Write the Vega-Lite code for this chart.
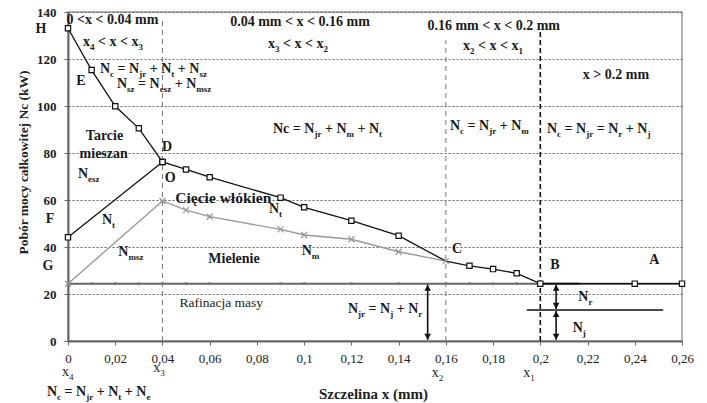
{
  "$schema": "https://vega.github.io/schema/vega-lite/v6.json",
  "width": 614,
  "height": 329,
  "autosize": {"type": "none"},
  "padding": {"left": 68, "top": 12, "right": 25, "bottom": 62},
  "background": "white",
  "config": {"font": "Liberation Serif", "view": {"stroke": "#999", "strokeWidth": 1.5}},
  "datasets": {
    "njr": [
      {"x": 0, "y": 24.4}, {"x": 0.01, "y": 24.4}, {"x": 0.02, "y": 24.4}, {"x": 0.03, "y": 24.4},
      {"x": 0.04, "y": 24.4}, {"x": 0.05, "y": 24.4}, {"x": 0.06, "y": 24.4}, {"x": 0.09, "y": 24.4},
      {"x": 0.1, "y": 24.4}, {"x": 0.12, "y": 24.4}, {"x": 0.14, "y": 24.4}, {"x": 0.16, "y": 24.4},
      {"x": 0.17, "y": 24.4}, {"x": 0.18, "y": 24.4}, {"x": 0.19, "y": 24.4}, {"x": 0.2, "y": 24.4},
      {"x": 0.24, "y": 24.4}, {"x": 0.26, "y": 24.4}
    ],
    "nc": [
      {"x": 0, "y": 133.1}, {"x": 0.01, "y": 115.3}, {"x": 0.02, "y": 99.9}, {"x": 0.03, "y": 90.5},
      {"x": 0.04, "y": 76.2}, {"x": 0.05, "y": 73.0}, {"x": 0.06, "y": 69.7}, {"x": 0.09, "y": 61.0},
      {"x": 0.1, "y": 56.9}, {"x": 0.12, "y": 51.2}, {"x": 0.14, "y": 44.8}, {"x": 0.16, "y": 34.0},
      {"x": 0.17, "y": 32.0}, {"x": 0.18, "y": 30.6}, {"x": 0.19, "y": 28.8}, {"x": 0.2, "y": 24.4},
      {"x": 0.24, "y": 24.4}, {"x": 0.26, "y": 24.4}
    ],
    "nt": [{"x": 0, "y": 44.1}, {"x": 0.04, "y": 76.2}],
    "nm": [
      {"x": 0, "y": 24.4}, {"x": 0.04, "y": 59.6}, {"x": 0.05, "y": 55.7}, {"x": 0.06, "y": 52.9},
      {"x": 0.09, "y": 47.5}, {"x": 0.1, "y": 45.1}, {"x": 0.12, "y": 43.3}, {"x": 0.14, "y": 38.0},
      {"x": 0.16, "y": 34.0}
    ],
    "vgray": [{"x": 0.04, "y": 0, "y2": 137.5}, {"x": 0.16, "y": 0, "y2": 128}],
    "vblack": [{"x": 0.2, "y": 0, "y2": 132}],
    "hlines": [{"x": 0.1943, "x2": 0.252, "y": 13.2}, {"x": 0.2, "x2": 0.2165, "y": 24.4}],
    "shafts": [{"x": 0.1523, "y": 0.5, "y2": 24}, {"x": 0.2067, "y": 13.6, "y2": 24}, {"x": 0.2067, "y": 0.5, "y2": 12.8}],
    "heads": [
      {"x": 0.1523, "y": 22.6, "d": "up"}, {"x": 0.1523, "y": 1.8, "d": "down"},
      {"x": 0.2067, "y": 22.6, "d": "up"}, {"x": 0.2067, "y": 15.0, "d": "down"},
      {"x": 0.2067, "y": 11.4, "d": "up"}, {"x": 0.2067, "y": 1.8, "d": "down"}
    ],
    "boldMain": [
      {"x": 0.01355, "y": 114.04, "t": "N"}, {"x": 0.021, "y": 114.04, "t": "= N"}, {"x": 0.0346, "y": 114.04, "t": "+ N"}, {"x": 0.0465, "y": 114.04, "t": "+ N"},
      {"x": 0.02075, "y": 107.66, "t": "N"}, {"x": 0.02968, "y": 107.66, "t": "= N"}, {"x": 0.04518, "y": 107.66, "t": "+ N"},
      {"x": 0.08681, "y": 88.51, "t": "Nc = N"}, {"x": 0.10879, "y": 88.51, "t": "+ N"}, {"x": 0.12259, "y": 88.51, "t": "+ N"},
      {"x": 0.16176, "y": 89.79, "t": "N"}, {"x": 0.16922, "y": 89.79, "t": "= N"}, {"x": 0.18281, "y": 89.79, "t": "+ N"},
      {"x": 0.20284, "y": 88.51, "t": "N"}, {"x": 0.21029, "y": 88.51, "t": "= N"}, {"x": 0.22388, "y": 88.51, "t": "= N"}, {"x": 0.2362, "y": 88.51, "t": "+ N"},
      {"x": 0.11857, "y": 11.91, "t": "N"}, {"x": 0.12729, "y": 11.91, "t": "= N"}, {"x": 0.13919, "y": 11.91, "t": "+ N"},
      {"x": -0.00889, "y": -23.6, "t": "N"}, {"x": -0.00144, "y": -23.6, "t": "= N"}, {"x": 0.01215, "y": -23.6, "t": "+ N"}, {"x": 0.02405, "y": -23.6, "t": "+ N"},
      {"x": 0.00423, "y": 69.36, "t": "N"}, {"x": 0.0144, "y": 49.79, "t": "N"}, {"x": 0.08512, "y": 54.47, "t": "N"},
      {"x": 0.0213, "y": 36.38, "t": "N"}, {"x": 0.09896, "y": 36.6, "t": "N"}, {"x": 0.21609, "y": 16.81, "t": "N"}, {"x": 0.21372, "y": 4.04, "t": "N"},
      {"x": 0.00635, "y": 125.53, "t": "x"}, {"x": 0.0127, "y": 125.53, "t": "< x < x"},
      {"x": 0.08469, "y": 124.47, "t": "x"}, {"x": 0.09105, "y": 124.47, "t": "< x < x"},
      {"x": 0.16727, "y": 123.83, "t": "x"}, {"x": 0.17362, "y": 123.83, "t": "< x < x"}
    ],
    "boldSub": [
      {"x": 0.01783, "y": 114.04, "t": "c"}, {"x": 0.03015, "y": 114.04, "t": "jr"}, {"x": 0.04374, "y": 114.04, "t": "t"}, {"x": 0.05564, "y": 114.04, "t": "sz"},
      {"x": 0.02503, "y": 107.66, "t": "sz"}, {"x": 0.03883, "y": 107.66, "t": "esz"}, {"x": 0.05433, "y": 107.66, "t": "msz"},
      {"x": 0.10434, "y": 88.51, "t": "jr"}, {"x": 0.11793, "y": 88.51, "t": "m"}, {"x": 0.13174, "y": 88.51, "t": "t"},
      {"x": 0.16604, "y": 89.79, "t": "c"}, {"x": 0.17836, "y": 89.79, "t": "jr"}, {"x": 0.19195, "y": 89.79, "t": "m"},
      {"x": 0.20711, "y": 88.51, "t": "c"}, {"x": 0.21944, "y": 88.51, "t": "jr"}, {"x": 0.23303, "y": 88.51, "t": "r"}, {"x": 0.24535, "y": 88.51, "t": "j"},
      {"x": 0.12285, "y": 11.91, "t": "jr"}, {"x": 0.13644, "y": 11.91, "t": "j"}, {"x": 0.14834, "y": 11.91, "t": "r"},
      {"x": -0.00462, "y": -23.6, "t": "c"}, {"x": 0.00771, "y": -23.6, "t": "jr"}, {"x": 0.0213, "y": -23.6, "t": "t"}, {"x": 0.0332, "y": -23.6, "t": "e"},
      {"x": 0.00851, "y": 69.36, "t": "esz"}, {"x": 0.01867, "y": 49.79, "t": "t"}, {"x": 0.08939, "y": 54.47, "t": "t"},
      {"x": 0.02558, "y": 36.38, "t": "msz"}, {"x": 0.10324, "y": 36.6, "t": "m"}, {"x": 0.22037, "y": 16.81, "t": "r"}, {"x": 0.218, "y": 4.04, "t": "j"},
      {"x": 0.00932, "y": 125.53, "t": "4"}, {"x": 0.02985, "y": 125.53, "t": "3"},
      {"x": 0.08766, "y": 124.47, "t": "3"}, {"x": 0.1082, "y": 124.47, "t": "2"},
      {"x": 0.17023, "y": 123.83, "t": "2"}, {"x": 0.19077, "y": 123.83, "t": "1"}
    ],
    "boldCenter": [
      {"x": 0.01884, "y": 135.1, "t": "0 <x < 0.04 mm"},
      {"x": 0.09824, "y": 134.04, "t": "0.04 mm < x < 0.16 mm"},
      {"x": 0.18027, "y": 132.55, "t": "0.16 mm < x < 0.2 mm"},
      {"x": 0.23206, "y": 111.49, "t": "x > 0.2 mm"},
      {"x": -0.01143, "y": 130.9, "t": "H"},
      {"x": 0.0055, "y": 108.9, "t": "E"},
      {"x": -0.00762, "y": 50.09, "t": "F"},
      {"x": -0.00847, "y": 30.2, "t": "G"},
      {"x": 0.01546, "y": 85.74, "t": "Tarcie"},
      {"x": 0.01512, "y": 77.87, "t": "mieszan"},
      {"x": 0.04192, "y": 80.98, "t": "D"},
      {"x": 0.04332, "y": 67.79, "t": "O"},
      {"x": 0.07029, "y": 32.98, "t": "Mielenie"},
      {"x": 0.16473, "y": 37.57, "t": "C"},
      {"x": 0.20622, "y": 30.51, "t": "B"},
      {"x": 0.24828, "y": 32.77, "t": "A"}
    ],
    "boldWide": [{"x": 0.06577, "y": 58.6, "t": "Cięcie włókien"}],
    "regCenter": [{"x": 0.06492, "y": 14.6, "t": "Rafinacja masy"}],
    "regMain": [
      {"x": -0.00254, "y": -15.1, "t": "x"}, {"x": 0.03612, "y": -13.19, "t": "x"},
      {"x": 0.15401, "y": -15.32, "t": "x"}, {"x": 0.1928, "y": -15.32, "t": "x"}
    ],
    "regSub": [
      {"x": 0.00042, "y": -15.1, "t": "4"}, {"x": 0.03909, "y": -13.19, "t": "3"},
      {"x": 0.15698, "y": -15.32, "t": "2"}, {"x": 0.19577, "y": -15.32, "t": "1"}
    ]
  },
  "layer": [
    {
      "data": {"name": "njr"},
      "mark": {"type": "line", "color": "#666", "strokeWidth": 2},
      "encoding": {
        "x": {
          "field": "x", "type": "quantitative",
          "scale": {"domain": [0, 0.26], "nice": false, "zero": false},
          "axis": {
            "title": "Szczelina x (mm)",
            "values": [0, 0.02, 0.04, 0.06, 0.08, 0.1, 0.12, 0.14, 0.16, 0.18, 0.2, 0.22, 0.24, 0.26],
            "labelExpr": "replace(format(datum.value, '.2~f'), '.', ',')",
            "grid": false, "domainColor": "#666", "domainWidth": 2,
            "tickColor": "#666", "tickSize": 4, "tickWidth": 1,
            "labelFontSize": 13, "labelColor": "#222", "labelPadding": 7,
            "labelFlush": false, "labelOverlap": false,
            "titleFontSize": 15, "titleFontWeight": "bold", "titleColor": "#222",
            "titleX": 305, "titleY": 57, "titleBaseline": "alphabetic"
          }
        },
        "y": {
          "field": "y", "type": "quantitative",
          "scale": {"domain": [0, 140], "nice": false},
          "axis": {
            "title": "Pobór mocy całkowitej Nc (kW)",
            "values": [0, 20, 40, 60, 80, 100, 120, 140],
            "grid": true, "gridDash": [2, 2], "gridColor": "#666", "gridWidth": 1,
            "domainColor": "#666", "domainWidth": 2,
            "tickColor": "#666", "tickSize": 4,
            "labelFontSize": 13, "labelFontWeight": "bold", "labelColor": "#222", "labelPadding": 8,
            "titleFontSize": 13.5, "titleFontWeight": "bold", "titleColor": "#222",
            "titleX": -45, "titleY": 150, "titleBaseline": "middle", "titleAngle": 270
          }
        }
      }
    },
    {
      "data": {"name": "vgray"},
      "mark": {"type": "rule", "color": "#777", "strokeWidth": 1, "strokeDash": [5, 4]},
      "encoding": {"x": {"field": "x", "type": "quantitative"}, "y": {"field": "y", "type": "quantitative"}, "y2": {"field": "y2"}}
    },
    {
      "data": {"name": "vblack"},
      "mark": {"type": "rule", "color": "#111", "strokeWidth": 1.6, "strokeDash": [5, 3]},
      "encoding": {"x": {"field": "x", "type": "quantitative"}, "y": {"field": "y", "type": "quantitative"}, "y2": {"field": "y2"}}
    },
    {
      "data": {"name": "nm"},
      "mark": {"type": "line", "color": "#999", "strokeWidth": 1.4},
      "encoding": {"x": {"field": "x", "type": "quantitative"}, "y": {"field": "y", "type": "quantitative"}}
    },
    {
      "data": {"name": "nc"},
      "mark": {"type": "line", "color": "#111", "strokeWidth": 1.3},
      "encoding": {"x": {"field": "x", "type": "quantitative"}, "y": {"field": "y", "type": "quantitative"}}
    },
    {
      "data": {"name": "nt"},
      "mark": {"type": "line", "color": "#111", "strokeWidth": 1.3},
      "encoding": {"x": {"field": "x", "type": "quantitative"}, "y": {"field": "y", "type": "quantitative"}}
    },
    {
      "data": {"name": "hlines"},
      "mark": {"type": "rule", "color": "#111", "strokeWidth": 1.6},
      "encoding": {"x": {"field": "x", "type": "quantitative"}, "x2": {"field": "x2"}, "y": {"field": "y", "type": "quantitative"}}
    },
    {
      "data": {"name": "shafts"},
      "mark": {"type": "rule", "color": "#111", "strokeWidth": 1.6},
      "encoding": {"x": {"field": "x", "type": "quantitative"}, "y": {"field": "y", "type": "quantitative"}, "y2": {"field": "y2"}}
    },
    {
      "data": {"name": "heads"},
      "mark": {"type": "point", "filled": true, "color": "#111", "size": 45, "opacity": 1},
      "encoding": {
        "x": {"field": "x", "type": "quantitative"},
        "y": {"field": "y", "type": "quantitative"},
        "shape": {"field": "d", "type": "nominal", "scale": {"domain": ["up", "down"], "range": ["triangle-up", "triangle-down"]}, "legend": null}
      }
    },
    {
      "data": {"name": "njr"},
      "mark": {"type": "point", "shape": "square", "filled": true, "color": "#777", "size": 7, "opacity": 1},
      "encoding": {"x": {"field": "x", "type": "quantitative"}, "y": {"field": "y", "type": "quantitative"}}
    },
    {
      "data": {"name": "nm"},
      "mark": {"type": "point", "shape": "M-1,-1L1,1M-1,1L1,-1", "filled": false, "color": "#999", "strokeWidth": 1.3, "size": 36, "opacity": 1},
      "encoding": {"x": {"field": "x", "type": "quantitative"}, "y": {"field": "y", "type": "quantitative"}}
    },
    {
      "data": {"name": "nc"},
      "transform": [{"filter": "datum.x != 0.16"}],
      "mark": {"type": "point", "shape": "square", "filled": true, "fill": "white", "stroke": "#111", "strokeWidth": 1.2, "size": 28, "opacity": 1},
      "encoding": {"x": {"field": "x", "type": "quantitative"}, "y": {"field": "y", "type": "quantitative"}}
    },
    {
      "data": {"name": "nt"},
      "mark": {"type": "point", "shape": "square", "filled": true, "fill": "white", "stroke": "#111", "strokeWidth": 1.2, "size": 28, "opacity": 1},
      "encoding": {"x": {"field": "x", "type": "quantitative"}, "y": {"field": "y", "type": "quantitative"}}
    },
    {
      "data": {"name": "boldMain"},
      "mark": {"type": "text", "align": "left", "baseline": "alphabetic", "fontSize": 14, "fontWeight": "bold", "color": "#1a1a1a"},
      "encoding": {"x": {"field": "x", "type": "quantitative"}, "y": {"field": "y", "type": "quantitative"}, "text": {"field": "t"}}
    },
    {
      "data": {"name": "boldSub"},
      "mark": {"type": "text", "align": "left", "baseline": "alphabetic", "fontSize": 9, "fontWeight": "bold", "dy": 4, "color": "#1a1a1a"},
      "encoding": {"x": {"field": "x", "type": "quantitative"}, "y": {"field": "y", "type": "quantitative"}, "text": {"field": "t"}}
    },
    {
      "data": {"name": "boldCenter"},
      "mark": {"type": "text", "align": "center", "baseline": "alphabetic", "fontSize": 14, "fontWeight": "bold", "color": "#1a1a1a"},
      "encoding": {"x": {"field": "x", "type": "quantitative"}, "y": {"field": "y", "type": "quantitative"}, "text": {"field": "t"}}
    },
    {
      "data": {"name": "boldWide"},
      "mark": {"type": "text", "align": "center", "baseline": "alphabetic", "fontSize": 15.5, "fontWeight": "bold", "color": "#1a1a1a"},
      "encoding": {"x": {"field": "x", "type": "quantitative"}, "y": {"field": "y", "type": "quantitative"}, "text": {"field": "t"}}
    },
    {
      "data": {"name": "regCenter"},
      "mark": {"type": "text", "align": "center", "baseline": "alphabetic", "fontSize": 13.5, "color": "#1a1a1a"},
      "encoding": {"x": {"field": "x", "type": "quantitative"}, "y": {"field": "y", "type": "quantitative"}, "text": {"field": "t"}}
    },
    {
      "data": {"name": "regMain"},
      "mark": {"type": "text", "align": "left", "baseline": "alphabetic", "fontSize": 14, "color": "#1a1a1a"},
      "encoding": {"x": {"field": "x", "type": "quantitative"}, "y": {"field": "y", "type": "quantitative"}, "text": {"field": "t"}}
    },
    {
      "data": {"name": "regSub"},
      "mark": {"type": "text", "align": "left", "baseline": "alphabetic", "fontSize": 9, "dy": 4, "color": "#1a1a1a"},
      "encoding": {"x": {"field": "x", "type": "quantitative"}, "y": {"field": "y", "type": "quantitative"}, "text": {"field": "t"}}
    }
  ]
}
